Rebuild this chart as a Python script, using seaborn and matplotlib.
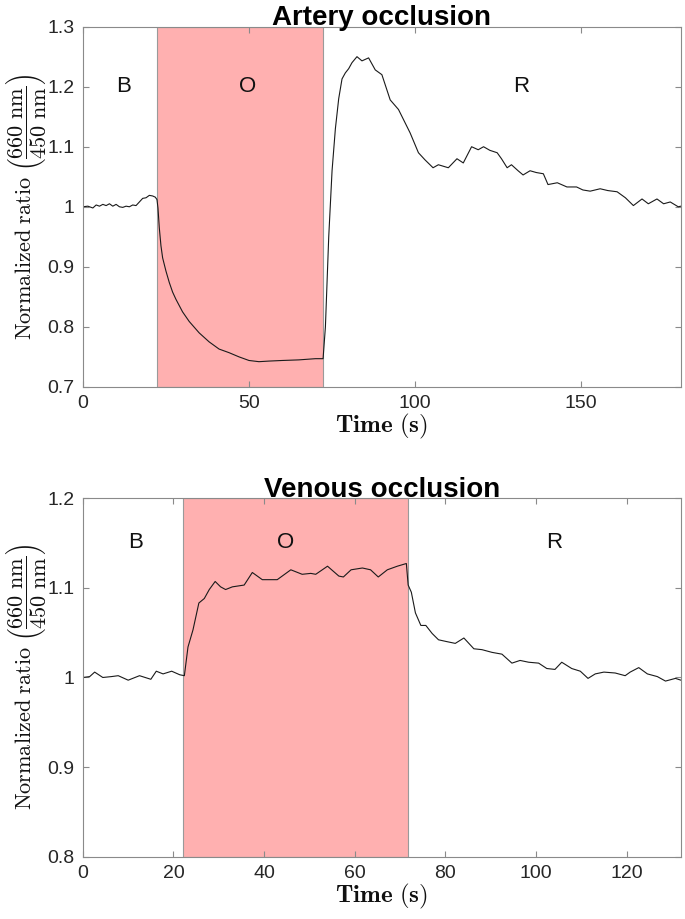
import numpy as np
import pandas as pd
import matplotlib
matplotlib.use("Agg")
import matplotlib.pyplot as plt
import seaborn as sns
from matplotlib.ticker import FuncFormatter

# artery occlusion trace
art_t = [0, 1.5, 3, 4, 5, 6, 7, 8, 9, 10, 11, 12, 13, 14, 15, 16, 17, 18, 19, 20, 21, 21.8, 22.3,
         22.6, 23, 23.5, 24, 25, 26, 27, 28, 30, 32, 35, 38, 41, 44, 47, 50, 53, 56, 60, 65, 70, 72.3,
         73, 74, 75, 76, 77, 78, 79, 80, 81, 82.5, 84, 86, 88, 90, 92.5, 95, 98.5, 101, 103, 105.4,
         107, 110, 112.6, 114.5, 117, 119, 120.6, 122.5, 124.7, 126, 127.7, 129, 131, 132.5, 134.6,
         136.5, 138.6, 140, 142.8, 145.7, 148.6, 150.5, 152.7, 155.7, 158, 160.8, 163.3, 165.7,
         168.3, 170.2, 172.8, 174.8, 176.8, 178, 179.2, 180]
art_v = [1.000, 1.001, 0.998, 1.003, 1.001, 1.004, 1.002, 1.005, 1.001, 1.004, 1.000, 0.999, 1.001,
         1.000, 1.003, 1.002, 1.008, 1.014, 1.015, 1.019, 1.018, 1.016, 1.012,
         0.998, 0.965, 0.935, 0.915, 0.893, 0.874, 0.858, 0.846, 0.825, 0.809, 0.790, 0.775, 0.763,
         0.757, 0.750, 0.744, 0.742, 0.743, 0.744, 0.745, 0.747, 0.747,
         0.800, 0.950, 1.060, 1.130, 1.180, 1.213, 1.223, 1.230, 1.240, 1.250, 1.243, 1.248, 1.228,
         1.220, 1.178, 1.162, 1.123, 1.090, 1.078, 1.065, 1.070, 1.065, 1.080, 1.073, 1.100, 1.095,
         1.100, 1.094, 1.090, 1.080, 1.065, 1.070, 1.060, 1.053, 1.060, 1.057, 1.055, 1.037, 1.040,
         1.033, 1.033, 1.028, 1.026, 1.030, 1.027, 1.025, 1.015, 1.002, 1.013, 1.005, 1.013, 1.005,
         1.008, 1.004, 1.000, 1.001]

# venous occlusion trace
ven_t = [0, 1.5, 2.6, 4.4, 6.3, 7.8, 10, 12.5, 15, 16.2, 17.7, 19.6, 21.4, 22.4,
         23.2, 24.3, 25.6, 26.8, 27.9, 29.2, 30.4, 31.5, 33, 35.6, 37.4, 39.6, 42.9, 45.9, 48.4,
         50.3, 51.4, 54, 56.5, 57.5, 59.2, 61.7, 63.5, 65.2, 67.2, 69.4, 71.4,
         71.8, 72.5, 73.4, 74.6, 75.7, 77.1, 78.5, 80.3, 82.2, 84.1, 86.3, 88.1, 90.3, 92.5, 94.7,
         96.5, 98.4, 100.6, 102.4, 104.2, 105.7, 107.9, 109.8, 111.5, 113.1, 115, 117.5, 119.7,
         120.8, 122.7, 124.6, 126.8, 128.6, 130.8, 132]
ven_v = [1.000, 1.001, 1.006, 1.000, 1.001, 1.002, 0.997, 1.002, 0.998, 1.007, 1.004, 1.007, 1.003,
         1.002,
         1.034, 1.053, 1.083, 1.088, 1.098, 1.107, 1.101, 1.098, 1.101, 1.103, 1.117, 1.109, 1.109,
         1.120, 1.115, 1.116, 1.115, 1.124, 1.113, 1.112, 1.120, 1.122, 1.120, 1.112, 1.120, 1.124,
         1.127,
         1.103, 1.095, 1.072, 1.058, 1.058, 1.049, 1.042, 1.040, 1.038, 1.044, 1.032, 1.031, 1.028,
         1.026, 1.016, 1.019, 1.017, 1.016, 1.010, 1.009, 1.017, 1.010, 1.007, 0.999, 1.004, 1.006,
         1.005, 1.002, 1.006, 1.011, 1.004, 1.001, 0.996, 0.999, 0.997]

occ_art = (22.3, 72.3)
occ_ven = (22.2, 71.7)

sns.set_theme(style="ticks")
plt.rcParams['font.family'] = ['Liberation Sans', 'DejaVu Sans']
plt.rcParams['mathtext.fontset'] = 'cm'

spine_col = '#8a8a8a'
shade_col = '#ffb0b0'

fig = plt.figure(figsize=(6.85, 9.19), dpi=100)
ax1 = fig.add_axes([0.121, 0.579, 0.873, 0.392])
ax2 = fig.add_axes([0.121, 0.0675, 0.873, 0.3906])

ylab = r'$\mathrm{Normalized\ ratio}\ \left(\dfrac{660\ \mathrm{nm}}{450\ \mathrm{nm}}\right)$'
xlab = r'$\mathbf{Time\ (s)}$'

panels = [
    (ax1, art_t, art_v, occ_art, (0, 180), (0.7, 1.3), np.arange(0, 151, 50),
     np.arange(0.7, 1.31, 0.1), 'Artery occlusion', [(12.3, 1.2, 'B'), (49.7, 1.2, 'O'), (132, 1.2, 'R')]),
    (ax2, ven_t, ven_v, occ_ven, (0, 132), (0.8, 1.2), np.arange(0, 121, 20),
     np.arange(0.8, 1.21, 0.1), 'Venous occlusion', [(11.7, 1.15, 'B'), (44.7, 1.15, 'O'), (104, 1.15, 'R')]),
]

for ax, t, v, occ, xl, yl, xt, yt, title, labels in panels:
    ax.axvspan(occ[0], occ[1], facecolor=shade_col, edgecolor='#9a9a9a', lw=0.8, zorder=0)
    df = pd.DataFrame({'t': t, 'v': v})
    sns.lineplot(data=df, x='t', y='v', ax=ax, color='#1a1a1a', lw=0.8, zorder=2)
    ax.set_xlim(*xl)
    ax.set_ylim(*yl)
    ax.set_xticks(xt)
    ax.set_yticks(yt)
    ax.yaxis.set_major_formatter(FuncFormatter(lambda val, pos: f'{round(val, 2):g}'))
    ax.tick_params(direction='in', top=True, right=True, length=4, width=0.8,
                   color=spine_col, labelsize=14, labelcolor='#262626', pad=6)
    for s in ax.spines.values():
        s.set_color(spine_col)
        s.set_linewidth(0.8)
    ax.set_xlabel(xlab, fontsize=18, labelpad=0, color='#111111')
    ax.set_ylabel(ylab, fontsize=16, color='#111111')
    ax.yaxis.set_label_coords(-0.058, 0.5)
    ax.set_title(title, fontsize=20, fontweight='bold', pad=1, color='black')
    for x, y, s in labels:
        ax.text(x, y, s, fontsize=16, ha='center', va='center', color='#111111')

fig.savefig('out.png', dpi=100)
